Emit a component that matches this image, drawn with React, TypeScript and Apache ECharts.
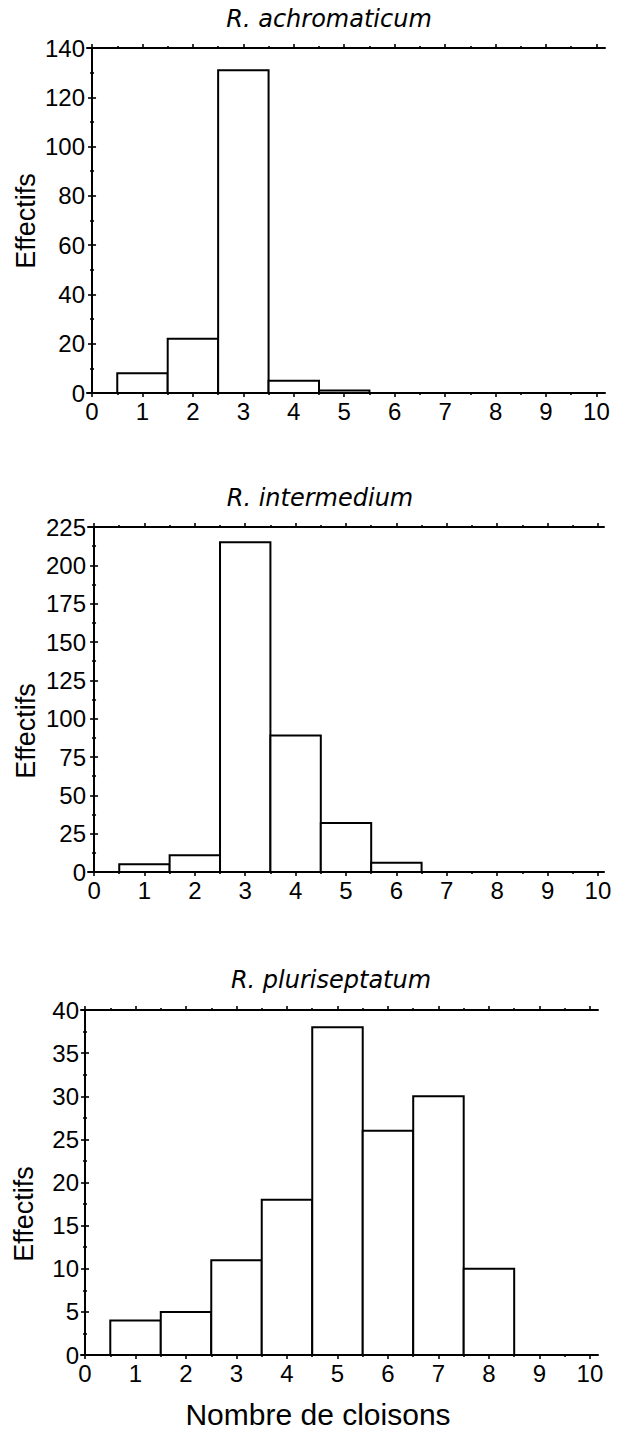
import React, { useEffect, useRef } from "react";
import * as echarts from "echarts";

// ---- data ----
const titles = ["R. achromaticum", "R. intermedium", "R. pluriseptatum"];
const classes = [1, 2, 3, 4, 5, 6, 7, 8, 9];
const achromaticum = [8, 22, 131, 5, 1, 0, 0, 0, 0];
const intermedium = [5, 11, 215, 89, 32, 6, 0, 0, 0];
const pluriseptatum = [4, 5, 11, 18, 38, 26, 30, 10, 0];
const xTicks = [0, 1, 2, 3, 4, 5, 6, 7, 8, 9, 10];
const xMinorTicks = [0.5, 1.5, 2.5, 3.5, 4.5, 5.5, 6.5, 7.5, 8.5, 9.5];
const yMax = [140, 225, 40];
const yInterval = [20, 25, 5];
const xMin = [-0.1, -0.12, -0.08];
const xMax = [10.17, 10.12, 10.16];
const yName = "Effectifs";
const xName = "Nombre de cloisons";

const seriesValues = [achromaticum, intermedium, pluriseptatum];

// ---- layout ----
const grids = [
  { left: 87, top: 48, width: 518, height: 345 },
  { left: 88, top: 527, width: 516, height: 345 },
  { left: 81, top: 1010, width: 517, height: 345 },
];
const titlePos = [
  [329, 19],
  [320, 498],
  [331, 980],
];
const yNamePos = [
  [26, 221],
  [26, 731],
  [24, 1214],
];

const LABEL_FONT = "'Liberation Sans', Arial, sans-serif";
const TITLE_FONT = "'DejaVu Sans', Verdana, sans-serif";

export default function App() {
  const ref = useRef<HTMLDivElement>(null);
  useEffect(() => {
    if (!ref.current) return;
    const chart = echarts.init(ref.current, undefined, { renderer: "svg" });
    const xAxis: any[] = [];
    const yAxis: any[] = [];
    const series: any[] = [];
    const lineStyle = { color: "#000", width: 2 };
    const tickStyle = { color: "#000", width: 1.6 };
    grids.forEach((g, i) => {
      const base = {
        type: "value",
        gridIndex: i,
        min: xMin[i],
        max: xMax[i],
        splitLine: { show: false },
      };
      // bottom major
      xAxis.push({
        ...base,
        position: "bottom",
        axisLine: { show: true, lineStyle },
        axisTick: { show: true, customValues: xTicks, length: 4, lineStyle: tickStyle },
        axisLabel: {
          show: true,
          customValues: xTicks,
          color: "#000",
          fontSize: 24,
          fontFamily: LABEL_FONT,
          margin: 6,
        },
      });
      // bottom minor
      xAxis.push({
        ...base,
        position: "bottom",
        axisLine: { show: false },
        axisTick: { show: true, customValues: xMinorTicks, length: 2, lineStyle: tickStyle },
        axisLabel: { show: false },
      });
      // top major
      xAxis.push({
        ...base,
        position: "top",
        axisLine: { show: true, lineStyle },
        axisTick: { show: true, customValues: xTicks, length: 4, lineStyle: tickStyle },
        axisLabel: { show: false },
      });
      // top minor
      xAxis.push({
        ...base,
        position: "top",
        axisLine: { show: false },
        axisTick: { show: true, customValues: xMinorTicks, length: 2, lineStyle: tickStyle },
        axisLabel: { show: false },
      });
      const yBase = {
        type: "value",
        gridIndex: i,
        min: 0,
        max: yMax[i],
        interval: yInterval[i],
        splitLine: { show: false },
        minorSplitLine: { show: false },
        axisLine: { show: true, lineStyle },
        axisTick: { show: true, length: 4, lineStyle: tickStyle },
        minorTick: { show: true, splitNumber: 2, length: 2, lineStyle: tickStyle },
      };
      yAxis.push({
        ...yBase,
        position: "left",
        axisLabel: {
          show: true,
          color: "#000",
          fontSize: 24,
          fontFamily: LABEL_FONT,
          margin: 2,
        },
      });
      yAxis.push({
        ...yBase,
        position: "right",
        axisLabel: { show: false },
      });
      series.push({
        type: "custom",
        xAxisIndex: i * 4,
        yAxisIndex: i * 2,
        data: classes.map((c, k) => [c, seriesValues[i][k]]),
        renderItem: (_params: any, api: any) => {
          const x = api.value(0);
          const y = api.value(1);
          const p1 = api.coord([x - 0.5, y]);
          const p2 = api.coord([x + 0.5, 0]);
          return {
            type: "rect",
            shape: { x: p1[0], y: p1[1], width: p2[0] - p1[0], height: p2[1] - p1[1] },
            style: { fill: "#fff", stroke: "#000", lineWidth: 2 },
          };
        },
      });
    });

    const graphic: any[] = [];
    titles.forEach((t, i) => {
      graphic.push({
        type: "text",
        x: titlePos[i][0],
        y: titlePos[i][1],
        style: {
          text: t,
          font: `italic 24px ${TITLE_FONT}`,
          fill: "#000",
          textAlign: "center",
          textVerticalAlign: "middle",
        },
      });
      graphic.push({
        type: "text",
        x: yNamePos[i][0],
        y: yNamePos[i][1],
        rotation: Math.PI / 2,
        style: {
          text: yName,
          font: `27px ${LABEL_FONT}`,
          fill: "#000",
          textAlign: "center",
          textVerticalAlign: "middle",
        },
      });
    });
    graphic.push({
      type: "text",
      x: 318,
      y: 1414,
      style: {
        text: xName,
        font: `30px ${LABEL_FONT}`,
        fill: "#000",
        textAlign: "center",
        textVerticalAlign: "middle",
      },
    });

    chart.setOption({
      animation: false,
      backgroundColor: "#fff",
      grid: grids,
      xAxis,
      yAxis,
      series,
      graphic,
    });
    return () => chart.dispose();
  }, []);
  return (
    <div
      ref={ref}
      style={{ position: "absolute", left: 0, top: 0, width: 621, height: 1431, background: "#fff" }}
    />
  );
}
